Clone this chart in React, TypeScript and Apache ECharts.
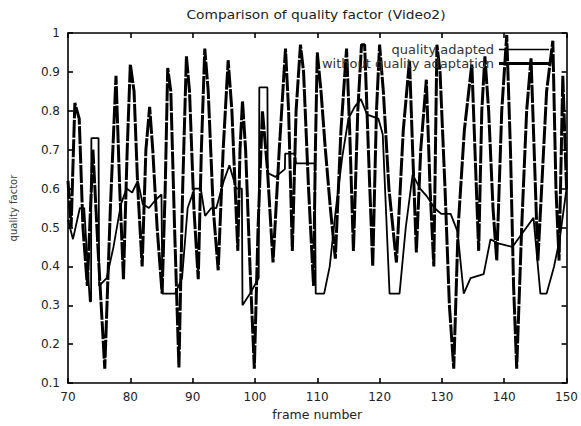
import { useEffect, useRef } from "react";
import * as echarts from "echarts";

const titleText = "Comparison of quality factor (Video2)";
const xName = "frame number";
const yName = "quality factor";

// "quality adapted" (thin solid line)
const adaptedFrames = [
  70, 70.8, 71.9, 72.6, 73.5, 73.7, 73.75, 74.9, 75.0, 76.2,
  77.3, 78.5, 79.4, 80.3, 81.2, 82.0, 83.0, 84.0, 85.0, 85.15,
  87.2, 88.3, 89.2, 90.3, 91.3, 92.0, 93.0, 93.8, 95.0, 95.9,
  97.0, 97.9, 98.0, 99.2, 100.6, 100.7, 102.0, 102.05, 103.3, 104.8,
  104.85, 106.4, 106.6, 109.6, 109.75, 111.1, 112, 113, 114, 115,
  116, 117, 118, 119.8, 120.5, 121.6, 123.2, 124.2, 125.3, 126.5,
  127.6, 128.8, 129.9, 131.4, 132.5, 133.5, 134.6, 136.7, 137.8, 138.9,
  141.3, 144.7, 145.8, 146.8, 148.0, 148.9, 150,
];
const adaptedValues = [
  0.52, 0.47, 0.55, 0.55, 0.31, 0.31, 0.73, 0.73, 0.35, 0.37,
  0.45, 0.56, 0.6, 0.59, 0.62, 0.56, 0.55, 0.57, 0.585, 0.33,
  0.33, 0.37, 0.55, 0.6, 0.6, 0.53, 0.55, 0.55, 0.62, 0.66,
  0.6, 0.6, 0.3, 0.33, 0.37, 0.86, 0.86, 0.64, 0.63, 0.65,
  0.69, 0.69, 0.665, 0.665, 0.33, 0.33, 0.4, 0.55, 0.68, 0.78,
  0.81, 0.83, 0.79, 0.78, 0.74, 0.33, 0.33, 0.5, 0.636, 0.6,
  0.58, 0.55, 0.535, 0.535, 0.49, 0.33, 0.37, 0.38, 0.47, 0.46,
  0.45, 0.525, 0.33, 0.33, 0.4, 0.47, 0.6,
];

// "without quality adaptation" (thick line)
const withoutFrames = [
  70.0, 70.5, 71.1, 71.8, 72.4, 73.1, 74.0, 74.8, 75.9, 76.8,
  77.7, 78.3, 78.9, 79.5, 80.0, 80.6, 81.2, 81.9, 82.5, 83.1,
  83.6, 84.3, 85.1, 85.6, 86.0, 86.5, 87.1, 87.8, 88.4, 89.0,
  89.5, 90.2, 90.9, 91.4, 91.95, 92.5, 93.3, 94.1, 94.9, 95.7,
  96.3, 97.25, 97.6, 98.0, 98.5, 99.2, 99.9, 100.5, 101.2, 102.0,
  102.9, 103.9, 104.9, 105.4, 106.0, 106.6, 107.3, 107.8, 108.6, 109.4,
  109.7, 110.0, 110.6, 111.3, 112.1, 112.9, 113.8, 114.7, 115.2, 115.8,
  116.5, 117.1, 117.6, 118.2, 118.9, 119.5, 120.0, 120.6, 121.5, 122.7,
  123.8, 124.8, 125.3, 125.9, 126.6, 127.5, 128.1, 128.7, 129.2, 129.7,
  130.5, 131.2, 131.9, 132.6, 133.6, 134.8, 135.3, 135.9, 136.4, 136.9,
  137.5, 138.2, 138.8, 139.6, 140.4, 141.0, 141.5, 142.0, 142.8, 143.6,
  144.3, 144.8, 145.4, 146.0, 146.8, 147.8, 148.3, 148.8, 149.4, 150.0,
];
const withoutValues = [
  0.62, 0.5, 0.82, 0.78, 0.5, 0.35, 0.7, 0.45, 0.137, 0.55,
  0.89, 0.6, 0.367, 0.7, 0.92, 0.85, 0.6, 0.4, 0.7, 0.81,
  0.7, 0.5, 0.33, 0.6, 0.91, 0.85, 0.5, 0.14, 0.6, 0.94,
  0.85, 0.55, 0.367, 0.7, 0.96, 0.85, 0.55, 0.39, 0.7, 0.93,
  0.8, 0.44, 0.7, 0.825, 0.7, 0.4, 0.137, 0.5, 0.8, 0.65,
  0.41, 0.7, 0.96, 0.8, 0.44, 0.8, 0.97, 0.9, 0.6, 0.35,
  0.7, 0.95, 0.85, 0.7, 0.55, 0.42, 0.75, 0.96, 0.75, 0.44,
  0.8, 0.97, 0.97, 0.7, 0.4, 0.8, 0.97, 0.85, 0.6, 0.41,
  0.75, 0.93, 0.7, 0.436, 0.7, 0.88, 0.6, 0.4, 0.97, 0.9,
  0.6, 0.3, 0.137, 0.5, 0.75, 0.92, 0.7, 0.44, 0.8, 0.94,
  0.8, 0.55, 0.415, 0.8, 0.995, 0.7, 0.35, 0.137, 0.5, 0.8,
  0.935, 0.7, 0.415, 0.6, 0.85, 0.98, 0.6, 0.415, 0.89, 0.6,
];

const zip = (xs: number[], ys: number[]) =>
  xs.slice(0, Math.min(xs.length, ys.length)).map((x, i) => [x, ys[i]]);

const FONT = "'DejaVu Sans', Verdana, sans-serif";
const ICON_THIN = "path://M0,0h0.01v0.01h-0.01z M0,4.3h50v1.4h-50z M49.99,9.99h0.01v0.01h-0.01z";
const ICON_THICK = "path://M0,0h0.01v0.01h-0.01z M0,3.6h50v2.8h-50z M49.99,9.99h0.01v0.01h-0.01z";

export default function App() {
  const ref = useRef<HTMLDivElement>(null);
  useEffect(() => {
    if (!ref.current) return;
    const chart = echarts.init(ref.current, undefined, { renderer: "svg" });
    const axisLine = { show: true, lineStyle: { color: "#000", width: 1.6 } };
    const tick = { show: true, inside: true, length: 5, lineStyle: { color: "#000", width: 1.6 } };
    chart.setOption({
      animation: false,
      backgroundColor: "#fff",
      graphic: [
        {
          type: "text",
          x: 316,
          y: 15,
          scaleX: 1.2,
          style: {
            text: titleText,
            font: "11.5px 'DejaVu Sans', sans-serif",
            fill: "#222",
            textAlign: "center",
            textVerticalAlign: "middle",
          },
        },
      ],
      legend: {
        orient: "vertical",
        right: 27,
        top: 38,
        align: "right",
        itemWidth: 50,
        itemHeight: 10,
        itemGap: 1,
        textStyle: { fontFamily: FONT, fontSize: 13, color: "#333", lineHeight: 12 },
        data: [
          { name: "quality adapted", icon: ICON_THIN },
          { name: "without quality adaptation", icon: ICON_THICK },
        ],
      },
      grid: { left: 65, right: 12, top: 33, bottom: 42 },
      xAxis: [
        {
          type: "value",
          min: 70,
          max: 150,
          interval: 10,
          name: xName,
          nameLocation: "middle",
          nameGap: 22,
          nameTextStyle: { fontFamily: FONT, fontSize: 12.5, color: "#222" },
          axisLine,
          axisTick: tick,
          splitLine: { show: false },
          axisLabel: { fontFamily: FONT, fontSize: 12, color: "#222", margin: 8 },
        },
        {
          type: "value",
          position: "top",
          min: 70,
          max: 150,
          interval: 10,
          axisLine,
          axisTick: tick,
          splitLine: { show: false },
          axisLabel: { show: false },
        },
      ],
      yAxis: [
        {
          type: "value",
          min: 0.1,
          max: 1,
          interval: 0.1,
          name: yName,
          nameLocation: "middle",
          nameGap: 50,
          nameTextStyle: { fontFamily: FONT, fontSize: 10, color: "#444" },
          axisLine,
          axisTick: tick,
          splitLine: { show: false },
          axisLabel: {
            fontFamily: FONT,
            fontSize: 12,
            color: "#222",
            margin: 8,
            formatter: (v: number) => String(+v.toFixed(1)),
          },
        },
        {
          type: "value",
          position: "right",
          min: 0.1,
          max: 1,
          interval: 0.1,
          axisLine,
          axisTick: tick,
          splitLine: { show: false },
          axisLabel: { show: false },
        },
      ],
      series: [
        {
          name: "quality adapted",
          type: "line",
          symbol: "none",
          data: zip(adaptedFrames, adaptedValues),
          lineStyle: { color: "#000", width: 1.8 },
          itemStyle: { color: "#000" },
          z: 3,
        },
        {
          name: "without quality adaptation",
          type: "line",
          symbol: "none",
          data: zip(withoutFrames, withoutValues),
          lineStyle: { color: "#000", width: 3, type: [18, 1.5] },
          itemStyle: { color: "#000" },
          z: 2,
        },
      ],
    });
    return () => chart.dispose();
  }, []);
  return (
    <div
      ref={ref}
      style={{ position: "absolute", left: 0, top: 0, width: 581, height: 426 }}
    />
  );
}
